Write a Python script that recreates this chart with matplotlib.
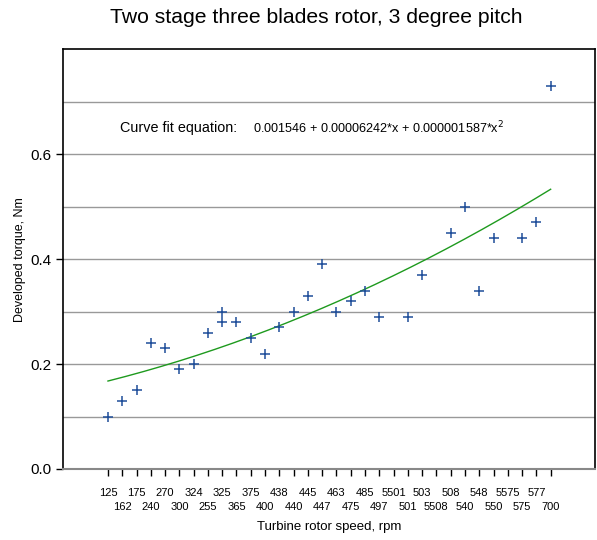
import numpy as np
import matplotlib.pyplot as plt

plt.rcParams['font.family'] = ['Liberation Sans', 'DejaVu Sans']

categories = ["125", "162", "175", "240", "270", "300", "324", "255", "325", "365",
              "375", "400", "438", "440", "445", "447", "463", "475", "485", "497",
              "5501", "501", "503", "5508", "508", "540", "548", "550", "5575", "575",
              "577", "700"]

point_speed = ["125", "162", "175", "240", "270", "300", "324", "255", "325", "325",
               "365", "375", "400", "438", "440", "445", "447", "463", "475", "485",
               "497", "501", "503", "508", "540", "548", "550", "575", "577", "700"]
torque = [0.10, 0.13, 0.15, 0.24, 0.23, 0.19, 0.20, 0.26, 0.30, 0.28,
          0.28, 0.25, 0.22, 0.27, 0.30, 0.33, 0.39, 0.30, 0.32, 0.34,
          0.29, 0.29, 0.37, 0.45, 0.50, 0.34, 0.44, 0.44, 0.47, 0.73]

pos = np.array([categories.index(s) for s in point_speed])
y = np.array(torque)

fig = plt.figure(figsize=(5.97, 5.40), dpi=100)
ax = fig.add_axes([0.1055, 0.1315, 0.891, 0.777])

for g in np.arange(0.1, 0.8, 0.1):
    ax.axhline(g, color="#999999", lw=1.0, zorder=1)

# quadratic trend line fitted over the category positions
coef = np.polyfit(pos, y, 2)
xs = np.linspace(0, len(categories) - 1, 200)
ax.plot(xs, np.polyval(coef, xs), color="#1e9a1e", lw=1.0, zorder=2)

ax.plot(pos, y, "+", color="#1f4e9a", ms=6.5, mew=1.1, zorder=3)

ax.set_xlim(-3.15, 34.1)
ax.set_ylim(0, 0.8)
ax.set_yticks([0.0, 0.2, 0.4, 0.6])
ax.set_yticklabels(["0.0", "0.2", "0.4", "0.6"], fontsize=11)

# two staggered rows of category labels
even = list(range(0, len(categories), 2))
odd = list(range(1, len(categories), 2))
ax.set_xticks(even)
ax.set_xticklabels([categories[i] for i in even], fontsize=8)
ax.set_xticks(odd, minor=True)
ax.set_xticklabels([categories[i] for i in odd], minor=True, fontsize=8)
ax.tick_params(axis="y", length=5, width=1, direction="out")
ax.tick_params(axis="x", which="major", length=5, width=1, direction="out", pad=9)
ax.tick_params(axis="x", which="minor", length=5, width=1, direction="out", pad=18.5)

for s in ["left", "top", "right"]:
    ax.spines[s].set_color("black")
    ax.spines[s].set_linewidth(1.2)
ax.spines["bottom"].set_color("#888888")
ax.spines["bottom"].set_linewidth(1.5)

ax.text(0.84, 0.651, "Curve fit equation:", fontsize=10.4, va="center")
ax.text(10.15, 0.651, "0.001546 + 0.00006242*x + 0.000001587*x$^2$", fontsize=9.1, va="center")

ax.set_ylabel("Developed torque, Nm", fontsize=9, labelpad=3)
ax.set_xlabel("Turbine rotor speed, rpm", fontsize=9.5, labelpad=7)
fig.text(0.53, 0.967, "Two stage three blades rotor, 3 degree pitch", fontsize=15.2,
         ha="center", va="center")

fig.savefig("out.png", dpi=100)
